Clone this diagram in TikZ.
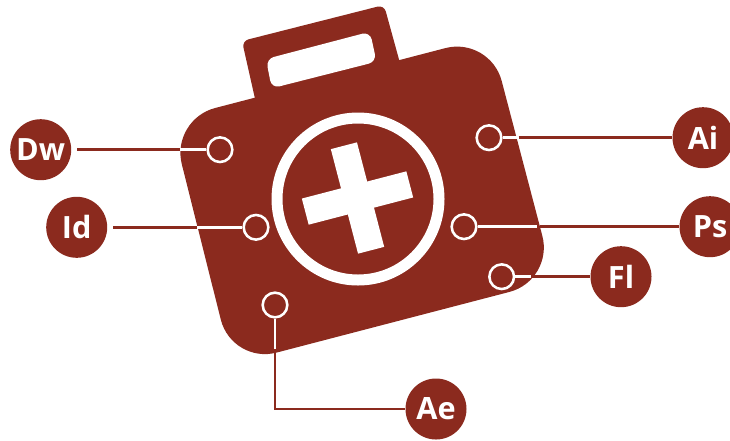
\documentclass[tikz,border=0pt]{standalone}
\usepackage{fontspec}
\setmainfont{Open Sans}
\definecolor{kitred}{RGB}{139,42,30}
\tikzset{
  badge/.style={circle,fill=kitred,inner sep=0pt,minimum size=45.75pt,text=white,font=\fontsize{23}{23}\selectfont\bfseries},
  port/.style={circle,draw=white,fill=kitred,line width=1.9pt,inner sep=0pt,minimum size=18.5pt},
  outerline/.style={draw=kitred,line width=2pt},
  innerline/.style={draw=white,line width=2pt},
  crossarm/.style={fill=white,inner sep=0pt,rotate=14.6,minimum height=20.25pt,minimum width=81pt},
  ring/.style={circle,draw=white,line width=8.25pt,inner sep=0pt,minimum size=121.5pt}
}
\begin{document}
\begin{tikzpicture}[x=0.75pt,y=-0.75pt]
\useasboundingbox (0,0) rectangle (730,440);
% handle
\fill[kitred,rounded corners=5pt] (258,112) -- (242,41) -- (384,5) -- (403,74) -- cycle;
\fill[white,rounded corners=6pt] (266,59) -- (370,31.7) -- (376.5,61.7) -- (271.7,88.3) -- cycle;
% body
\fill[kitred,rounded corners=34.5pt] (170.6,119.6) -- (490,36.5) -- (554,280.3) -- (232,364.2) -- cycle;
% emblem
\node[ring] (emblem) at (358,199) {};
\node[crossarm] (armh) at (357.5,198) {};
\node[crossarm,rotate=90] (armv) at (357.5,198) {};
% badges
\node[badge] (dw) at (40.7,149.7) {Dw};
\node[badge] (id) at (76.7,227.3) {Id};
\node[badge] (ae) at (436,409) {Ae};
\node[badge] (ai) at (703,137.7) {Ai};
\node[badge] (ps) at (710,226.7) {Ps};
\node[badge] (fl) at (621,276.7) {Fl};
% ports
\node[port] (pdw) at (220,149.7) {};
\node[port] (pid) at (256,227.3) {};
\node[port] (pae) at (275,305) {};
\node[port] (pai) at (489,137.7) {};
\node[port] (pps) at (464,226.7) {};
\node[port] (pfl) at (501.7,276.7) {};
% free ends
\coordinate (dwa) at (77,149.7); \coordinate (dwb) at (180,149.7);
\coordinate (ida) at (113,227.3); \coordinate (idb) at (197,227.3);
\coordinate (aia) at (518.5,137.7); \coordinate (aib) at (516.5,137.7);
\coordinate (psa) at (540,226.7); \coordinate (psb) at (536.5,226.7);
\coordinate (fla) at (532,276.7); \coordinate (flb) at (531,276.7);
\coordinate (aea) at (275,353); \coordinate (aeb) at (275,349); \coordinate (aec) at (275,409);
% connectors
\draw[outerline] (dwa) -- (dwb);
\draw[innerline] (dwb) -- (pdw);
\draw[outerline] (ida) -- (idb);
\draw[innerline] (idb) -- (pid);
\draw[outerline] (aia) -- (ai);
\draw[innerline] (aib) -- (pai);
\draw[outerline] (psa) -- (ps);
\draw[innerline] (psb) -- (pps);
\draw[outerline] (fla) -- (fl);
\draw[innerline] (flb) -- (pfl);
\draw[outerline] (aea) -- (aec) -- (ae);
\draw[innerline] (aeb) -- (pae);
\end{tikzpicture}
\end{document}
